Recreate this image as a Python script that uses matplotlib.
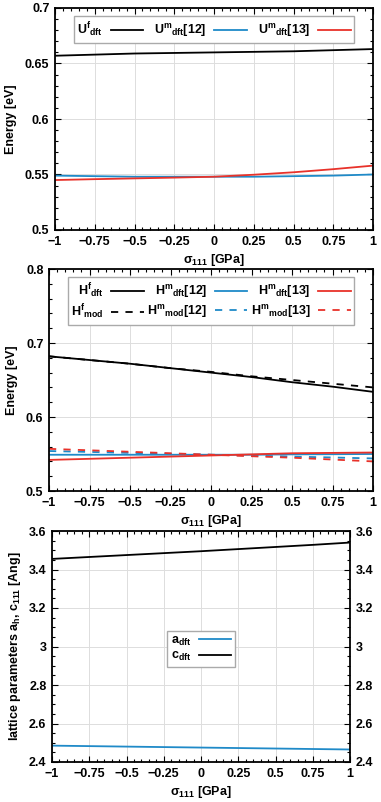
import matplotlib
matplotlib.use('Agg')
import matplotlib.pyplot as plt
from matplotlib.ticker import AutoMinorLocator
import numpy as np

plt.rcParams['font.family'] = ['Liberation Sans', 'DejaVu Sans']
plt.rcParams['font.weight'] = 'bold'
plt.rcParams['axes.labelweight'] = 'bold'
plt.rcParams['font.size'] = 9
plt.rcParams['mathtext.fontset'] = 'custom'
plt.rcParams['mathtext.rm'] = 'Liberation Sans:bold'
plt.rcParams['mathtext.it'] = 'Liberation Sans:bold'
plt.rcParams['mathtext.bf'] = 'Liberation Sans:bold'
plt.rcParams['mathtext.default'] = 'regular'

# stress [GPa]
sigma = [-1.0, -0.75, -0.5, -0.25, 0.0, 0.25, 0.5, 0.75, 1.0]

# panel 1: energies
U_f_dft = [0.657, 0.658, 0.659, 0.6595, 0.660, 0.6605, 0.661, 0.662, 0.663]
U_m12_dft = [0.549, 0.5485, 0.548, 0.548, 0.548, 0.548, 0.5485, 0.549, 0.550]
U_m13_dft = [0.545, 0.5458, 0.5465, 0.5472, 0.548, 0.5498, 0.552, 0.5548, 0.558]

# panel 2: enthalpies
H_f_dft = [0.682, 0.677, 0.672, 0.666, 0.660, 0.654, 0.647, 0.641, 0.634]
H_f_mod = [0.682, 0.677, 0.672, 0.666, 0.661, 0.655, 0.650, 0.645, 0.640]
H_m12_dft = [0.549, 0.549, 0.549, 0.549, 0.549, 0.549, 0.5495, 0.5497, 0.550]
H_m13_dft = [0.542, 0.5435, 0.545, 0.5465, 0.548, 0.5495, 0.551, 0.5515, 0.552]
H_m12_mod = [0.554, 0.5528, 0.5515, 0.5503, 0.549, 0.5478, 0.5465, 0.5453, 0.544]
H_m13_mod = [0.557, 0.555, 0.553, 0.551, 0.549, 0.547, 0.545, 0.5425, 0.540]

# panel 3: lattice parameters
a_dft = [2.485, 2.4825, 2.480, 2.4775, 2.475, 2.4725, 2.470, 2.4675, 2.465]
c_dft = [3.455, 3.465, 3.475, 3.485, 3.495, 3.506, 3.517, 3.528, 3.540]

xticks = [-1, -0.75, -0.5, -0.25, 0, 0.25, 0.5, 0.75, 1]
xticklabels = ['−1', '−0.75', '−0.5', '−0.25', '0', '0.25', '0.5', '0.75', '1']

black = '#000000'
blue = '#1f8ac8'
red = '#e8322a'
dash = (0, (4, 4))

fig = plt.figure(figsize=(3.81, 8.02), dpi=100)
ax1 = fig.add_axes([55 / 381, 1 - 230 / 802, 318 / 381, 222 / 802])
ax2 = fig.add_axes([49 / 381, 1 - 491 / 802, 324 / 381, 222 / 802])
ax3 = fig.add_axes([52 / 381, 1 - 762 / 802, 298 / 381, 231 / 802])


def style(ax, yticks, ylabels, right_labels=False):
    ax.set_xlim(-1, 1)
    ax.set_xticks(xticks)
    ax.set_xticklabels(xticklabels, fontweight='bold')
    ax.set_yticks(yticks)
    ax.set_yticklabels(ylabels, fontweight='bold')
    ax.xaxis.set_minor_locator(AutoMinorLocator(5))
    ax.yaxis.set_minor_locator(AutoMinorLocator(5))
    ax.tick_params(which='both', direction='in', top=True, right=True,
                   labelright=right_labels, width=0.8, pad=4)
    ax.tick_params(which='major', length=4)
    ax.tick_params(which='minor', length=2)
    ax.grid(True, color='#dddddd', linewidth=0.7)
    ax.set_axisbelow(True)
    for s in ax.spines.values():
        s.set_linewidth(1.3)
    ax.set_xlabel(r'σ$_{111}$ [GPa]', labelpad=3, fontweight='bold')


leg_kw = dict(markerfirst=False, fancybox=False, edgecolor='#aaaaaa',
              framealpha=1, handlelength=2.6, handletextpad=0.6,
              borderpad=0.3, labelspacing=0.2, prop={'weight': 'bold', 'size': 9})

# panel 1
ax1.plot(sigma, U_f_dft, color=black, lw=1.3, label=r'U$^{f}$$_{dft}$')
ax1.plot(sigma, U_m12_dft, color=blue, lw=1.3, label=r'U$^{m}$$_{dft}$[12]')
ax1.plot(sigma, U_m13_dft, color=red, lw=1.3, label=r'U$^{m}$$_{dft}$[13]')
ax1.set_ylim(0.5, 0.7)
style(ax1, [0.5, 0.55, 0.6, 0.65, 0.7], ['0.5', '0.55', '0.6', '0.65', '0.7'])
ax1.set_ylabel('Energy [eV]', labelpad=6, fontweight='bold')
ax1.legend(loc='upper center', ncol=3, columnspacing=0.9,
           bbox_to_anchor=(0.5, 0.99), **leg_kw)

# panel 2
ax2.plot(sigma, H_f_dft, color=black, lw=1.3, label=r'H$^{f}$$_{dft}$')
ax2.plot(sigma, H_f_mod, color=black, lw=1.3, ls=dash, label=r'H$^{f}$$_{mod}$')
ax2.plot(sigma, H_m12_dft, color=blue, lw=1.3, label=r'H$^{m}$$_{dft}$[12]')
ax2.plot(sigma, H_m12_mod, color=blue, lw=1.3, ls=dash, label=r'H$^{m}$$_{mod}$[12]')
ax2.plot(sigma, H_m13_dft, color=red, lw=1.3, label=r'H$^{m}$$_{dft}$[13]')
ax2.plot(sigma, H_m13_mod, color=red, lw=1.3, ls=dash, label=r'H$^{m}$$_{mod}$[13]')
ax2.set_ylim(0.5, 0.8)
style(ax2, [0.5, 0.6, 0.7, 0.8], ['0.5', '0.6', '0.7', '0.8'])
ax2.set_ylabel('Energy [eV]', labelpad=6, fontweight='bold')
ax2.legend(loc='upper center', ncol=3, columnspacing=0.3,
           bbox_to_anchor=(0.5, 0.99), **leg_kw)

# panel 3
ax3.plot(sigma, a_dft, color=blue, lw=1.3, label=r'a$_{dft}$')
ax3.plot(sigma, c_dft, color=black, lw=1.3, label=r'c$_{dft}$')
ax3.set_ylim(2.4, 3.6)
style(ax3, [2.4, 2.6, 2.8, 3.0, 3.2, 3.4, 3.6],
      ['2.4', '2.6', '2.8', '3', '3.2', '3.4', '3.6'], right_labels=True)
ax3.yaxis.set_minor_locator(AutoMinorLocator(4))
ax3.set_ylabel(r'lattice parameters a$_{h}$, c$_{111}$ [Ang]', labelpad=4,
               fontweight='bold')
ax3.legend(loc='center', bbox_to_anchor=(0.5, 0.49), **leg_kw)

fig.savefig('out.png', dpi=100)
